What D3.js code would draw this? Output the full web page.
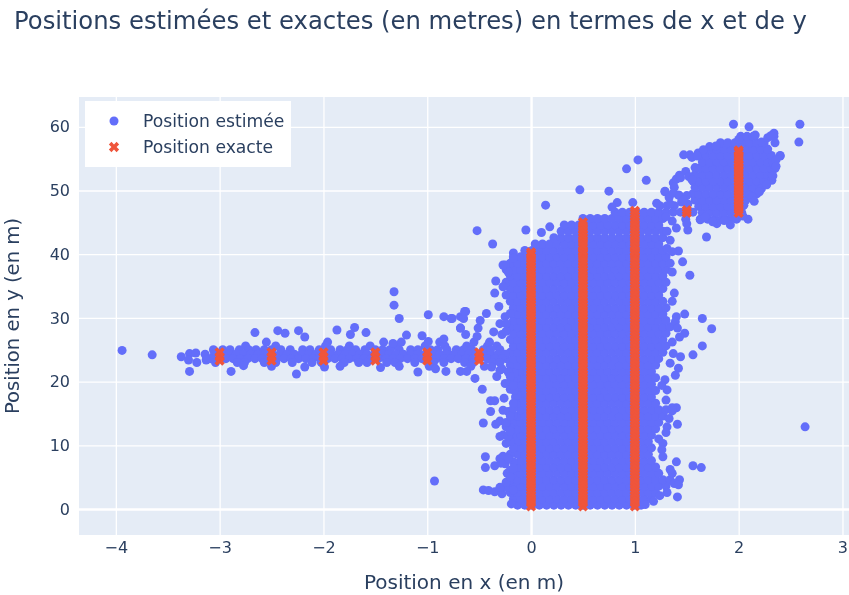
<!DOCTYPE html>
<html>
<head>
<meta charset="utf-8">
<script src="https://cdn.jsdelivr.net/npm/d3@7"></script>
<style>
  html, body { margin: 0; padding: 0; background: #fff; }
  text { font-family: "DejaVu Sans", sans-serif; fill: #2a3f5f; }
</style>
</head>
<body>
<div id="wrapper"></div>
<script>
// labels
const titleText = "Positions estimées et exactes (en metres) en termes de x et de y";
const xLabel = "Position en x (en m)";
const yLabel = "Position en y (en m)";
const seriesNames = ["Position estimée", "Position exacte"];
const xTicks = [-4, -3, -2, -1, 0, 1, 2, 3];
const yTicks = [0, 10, 20, 30, 40, 50, 60];

// estimated positions, read row by row: [y, x, x, x, ...]
const massRows = [
  [0.6,-0.13,-0.06,0.01,0.08,0.15,0.22,0.29,0.36,0.43,0.5,0.57,0.64,0.71,0.78,0.85,0.92,0.99,1.06],
  [1.6,-0.17,-0.1,-0.03,0.04,0.11,0.18,0.25,0.32,0.39,0.46,0.53,0.6,0.67,0.74,0.81,0.88,0.95,1.02,1.09,1.16],
  [2.6,-0.2,-0.13,-0.06,0.01,0.08,0.15,0.22,0.29,0.36,0.43,0.5,0.57,0.64,0.71,0.78,0.85,0.92,0.99,1.06,1.13,1.2],
  [3.6,-0.24,-0.17,-0.1,-0.03,0.04,0.11,0.18,0.25,0.32,0.39,0.46,0.53,0.6,0.67,0.74,0.81,0.88,0.95,1.02,1.09,1.16,1.23,1.3],
  [4.6,-0.2,-0.13,-0.06,0.01,0.08,0.15,0.22,0.29,0.36,0.43,0.5,0.57,0.64,0.71,0.78,0.85,0.92,0.99,1.06,1.13,1.2,1.27,1.34],
  [5.6,-0.17,-0.1,-0.03,0.04,0.11,0.18,0.25,0.32,0.39,0.46,0.53,0.6,0.67,0.74,0.81,0.88,0.95,1.02,1.09,1.16,1.23],
  [6.6,-0.13,-0.06,0.01,0.08,0.15,0.22,0.29,0.36,0.43,0.5,0.57,0.64,0.71,0.78,0.85,0.92,0.99,1.06,1.13,1.2],
  [7.6,-0.1,-0.03,0.04,0.11,0.18,0.25,0.32,0.39,0.46,0.53,0.6,0.67,0.74,0.81,0.88,0.95,1.02,1.09,1.16],
  [8.6,-0.13,-0.06,0.01,0.08,0.15,0.22,0.29,0.36,0.43,0.5,0.57,0.64,0.71,0.78,0.85,0.92,0.99,1.06,1.13],
  [9.6,-0.1,-0.03,0.04,0.11,0.18,0.25,0.32,0.39,0.46,0.53,0.6,0.67,0.74,0.81,0.88,0.95,1.02,1.09,1.16],
  [10.6,-0.13,-0.06,0.01,0.08,0.15,0.22,0.29,0.36,0.43,0.5,0.57,0.64,0.71,0.78,0.85,0.92,0.99,1.06,1.13],
  [11.6,-0.17,-0.1,-0.03,0.04,0.11,0.18,0.25,0.32,0.39,0.46,0.53,0.6,0.67,0.74,0.81,0.88,0.95,1.02,1.09,1.16],
  [12.6,-0.13,-0.06,0.01,0.08,0.15,0.22,0.29,0.36,0.43,0.5,0.57,0.64,0.71,0.78,0.85,0.92,0.99,1.06,1.13,1.2],
  [13.6,-0.17,-0.1,-0.03,0.04,0.11,0.18,0.25,0.32,0.39,0.46,0.53,0.6,0.67,0.74,0.81,0.88,0.95,1.02,1.09,1.16,1.23],
  [14.6,-0.13,-0.06,0.01,0.08,0.15,0.22,0.29,0.36,0.43,0.5,0.57,0.64,0.71,0.78,0.85,0.92,0.99,1.06,1.13,1.2,1.27],
  [15.6,-0.1,-0.03,0.04,0.11,0.18,0.25,0.32,0.39,0.46,0.53,0.6,0.67,0.74,0.81,0.88,0.95,1.02,1.09,1.16,1.23,1.3],
  [16.6,-0.13,-0.06,0.01,0.08,0.15,0.22,0.29,0.36,0.43,0.5,0.57,0.64,0.71,0.78,0.85,0.92,0.99,1.06,1.13,1.2],
  [17.6,-0.1,-0.03,0.04,0.11,0.18,0.25,0.32,0.39,0.46,0.53,0.6,0.67,0.74,0.81,0.88,0.95,1.02,1.09,1.16],
  [18.6,-0.13,-0.06,0.01,0.08,0.15,0.22,0.29,0.36,0.43,0.5,0.57,0.64,0.71,0.78,0.85,0.92,0.99,1.06,1.13,1.2],
  [19.6,-0.1,-0.03,0.04,0.11,0.18,0.25,0.32,0.39,0.46,0.53,0.6,0.67,0.74,0.81,0.88,0.95,1.02,1.09,1.16],
  [20.6,-0.13,-0.06,0.01,0.08,0.15,0.22,0.29,0.36,0.43,0.5,0.57,0.64,0.71,0.78,0.85,0.92,0.99,1.06,1.13,1.2],
  [21.6,-0.17,-0.1,-0.03,0.04,0.11,0.18,0.25,0.32,0.39,0.46,0.53,0.6,0.67,0.74,0.81,0.88,0.95,1.02,1.09,1.16],
  [22.6,-0.2,-0.13,-0.06,0.01,0.08,0.15,0.22,0.29,0.36,0.43,0.5,0.57,0.64,0.71,0.78,0.85,0.92,0.99,1.06,1.13,1.2],
  [23.6,-0.24,-0.17,-0.1,-0.03,0.04,0.11,0.18,0.25,0.32,0.39,0.46,0.53,0.6,0.67,0.74,0.81,0.88,0.95,1.02,1.09,1.16,1.23],
  [24.6,-0.2,-0.13,-0.06,0.01,0.08,0.15,0.22,0.29,0.36,0.43,0.5,0.57,0.64,0.71,0.78,0.85,0.92,0.99,1.06,1.13,1.2,1.27],
  [25.6,-0.17,-0.1,-0.03,0.04,0.11,0.18,0.25,0.32,0.39,0.46,0.53,0.6,0.67,0.74,0.81,0.88,0.95,1.02,1.09,1.16,1.23,1.3],
  [26.6,-0.2,-0.13,-0.06,0.01,0.08,0.15,0.22,0.29,0.36,0.43,0.5,0.57,0.64,0.71,0.78,0.85,0.92,0.99,1.06,1.13,1.2,1.27],
  [27.6,-0.17,-0.1,-0.03,0.04,0.11,0.18,0.25,0.32,0.39,0.46,0.53,0.6,0.67,0.74,0.81,0.88,0.95,1.02,1.09,1.16,1.23,1.3],
  [28.6,-0.2,-0.13,-0.06,0.01,0.08,0.15,0.22,0.29,0.36,0.43,0.5,0.57,0.64,0.71,0.78,0.85,0.92,0.99,1.06,1.13,1.2,1.27,1.34],
  [29.6,-0.17,-0.1,-0.03,0.04,0.11,0.18,0.25,0.32,0.39,0.46,0.53,0.6,0.67,0.74,0.81,0.88,0.95,1.02,1.09,1.16,1.23,1.3],
  [30.6,-0.13,-0.06,0.01,0.08,0.15,0.22,0.29,0.36,0.43,0.5,0.57,0.64,0.71,0.78,0.85,0.92,0.99,1.06,1.13,1.2,1.27],
  [31.6,-0.17,-0.1,-0.03,0.04,0.11,0.18,0.25,0.32,0.39,0.46,0.53,0.6,0.67,0.74,0.81,0.88,0.95,1.02,1.09,1.16,1.23,1.3],
  [32.6,-0.2,-0.13,-0.06,0.01,0.08,0.15,0.22,0.29,0.36,0.43,0.5,0.57,0.64,0.71,0.78,0.85,0.92,0.99,1.06,1.13,1.2,1.27],
  [33.6,-0.24,-0.17,-0.1,-0.03,0.04,0.11,0.18,0.25,0.32,0.39,0.46,0.53,0.6,0.67,0.74,0.81,0.88,0.95,1.02,1.09,1.16,1.23],
  [34.6,-0.2,-0.13,-0.06,0.01,0.08,0.15,0.22,0.29,0.36,0.43,0.5,0.57,0.64,0.71,0.78,0.85,0.92,0.99,1.06,1.13,1.2,1.27],
  [35.6,-0.24,-0.17,-0.1,-0.03,0.04,0.11,0.18,0.25,0.32,0.39,0.46,0.53,0.6,0.67,0.74,0.81,0.88,0.95,1.02,1.09,1.16,1.23,1.3],
  [36.6,-0.2,-0.13,-0.06,0.01,0.08,0.15,0.22,0.29,0.36,0.43,0.5,0.57,0.64,0.71,0.78,0.85,0.92,0.99,1.06,1.13,1.2,1.27],
  [37.6,-0.24,-0.17,-0.1,-0.03,0.04,0.11,0.18,0.25,0.32,0.39,0.46,0.53,0.6,0.67,0.74,0.81,0.88,0.95,1.02,1.09,1.16,1.23,1.3],
  [38.6,-0.2,-0.13,-0.06,0.01,0.08,0.15,0.22,0.29,0.36,0.43,0.5,0.57,0.64,0.71,0.78,0.85,0.92,0.99,1.06,1.13,1.2,1.27,1.34],
  [39.6,-0.17,-0.1,-0.03,0.04,0.11,0.18,0.25,0.32,0.39,0.46,0.53,0.6,0.67,0.74,0.81,0.88,0.95,1.02,1.09,1.16,1.23,1.3],
  [40.6,-0.06,0.01,0.08,0.15,0.22,0.29,0.36,0.43,0.5,0.57,0.64,0.71,0.78,0.85,0.92,0.99,1.06,1.13,1.2,1.27],
  [41.6,0.04,0.11,0.18,0.25,0.32,0.39,0.46,0.53,0.6,0.67,0.74,0.81,0.88,0.95,1.02,1.09,1.16,1.23],
  [42.6,0.22,0.29,0.36,0.43,0.5,0.57,0.64,0.71,0.78,0.85,0.92,0.99,1.06,1.13,1.2,1.27],
  [43.6,0.29,0.36,0.43,0.5,0.57,0.64,0.71,0.78,0.85,0.92,0.99,1.06,1.13,1.2,1.27],
  [44.6,0.32,0.39,0.46,0.53,0.6,0.67,0.74,0.81,0.88,0.95,1.02,1.09,1.16,1.23],
  [45.6,0.5,0.57,0.64,0.71,0.78,0.85,0.92,0.99,1.06,1.13,1.2,1.27],
  [46.6,0.81,0.88,0.95,1.02,1.09,1.16,1.23,1.3,1.37,1.44,1.56],
  [47.6,1.24,1.31,1.38]
];

// upper right cluster, same layout
const clusterRows = [
  [45.5,1.49,1.63,1.7,1.77,1.84,1.91,1.98],
  [46.5,1.65,1.72,1.79,1.86,1.93,2,2.03],
  [47.5,1.615,1.685,1.755,1.825,1.895,1.965,2.035],
  [48.5,1.58,1.65,1.72,1.79,1.86,1.93,2,2.07],
  [49.5,1.56,1.615,1.685,1.755,1.825,1.895,1.965,2.035,2.105,2.175],
  [50.5,1.58,1.65,1.72,1.79,1.86,1.93,2,2.07,2.14,2.21],
  [51.5,1.56,1.615,1.685,1.755,1.825,1.895,1.965,2.035,2.105,2.175,2.245],
  [52.5,1.58,1.65,1.72,1.79,1.86,1.93,2,2.07,2.14,2.21,2.28,2.32],
  [53.5,1.615,1.685,1.755,1.825,1.895,1.965,2.035,2.105,2.175,2.245,2.315,2.35],
  [54.5,1.65,1.72,1.79,1.86,1.93,2,2.07,2.14,2.21,2.28,2.33],
  [55.5,1.64,1.685,1.755,1.825,1.895,1.965,2.035,2.105,2.175,2.245,2.315,2.4],
  [56.5,1.72,1.79,1.86,1.93,2,2.07,2.14,2.21,2.28],
  [57.5,1.825,1.895,1.965,2.035,2.105,2.175,2.245,2.35],
  [58.5,2.02,2.08,2.14,2.34]
];

// horizontal band around y = 24
const bandRows = [
  [26.2,-1.96,-1.42,-0.88,-0.55,-0.4],
  [25.6,-2.75,-2.46,-1.98,-1.75,-1.55,-1.3,-1.02,-0.83,-0.62,-0.42,-0.33],
  [25.0,-3.06,-2.97,-2.9,-2.81,-2.72,-2.65,-2.57,-2.5,-2.41,-2.32,-2.2,-2.13,-2.04,-1.93,-1.84,-1.77,-1.69,-1.6,-1.5,-1.43,-1.36,-1.27,-1.16,-1.09,-0.97,-0.9,-0.81,-0.72,-0.65,-0.57,-0.46,-0.39,-0.3],
  [24.3,-3.14,-3.05,-2.98,-2.91,-2.84,-2.77,-2.7,-2.63,-2.56,-2.49,-2.42,-2.35,-2.28,-2.21,-2.14,-2.07,-2,-1.93,-1.86,-1.79,-1.72,-1.65,-1.58,-1.51,-1.44,-1.37,-1.3,-1.23,-1.16,-1.09,-1.02,-0.95,-0.88,-0.81,-0.74,-0.67,-0.6,-0.53,-0.46,-0.39,-0.32,-0.25],
  [23.6,-3.09,-3.01,-2.94,-2.87,-2.8,-2.73,-2.66,-2.59,-2.52,-2.45,-2.38,-2.31,-2.24,-2.17,-2.1,-2.03,-1.96,-1.89,-1.82,-1.75,-1.68,-1.61,-1.54,-1.47,-1.4,-1.33,-1.26,-1.19,-1.12,-1.05,-0.98,-0.91,-0.84,-0.77,-0.7,-0.63,-0.56,-0.49,-0.42,-0.35,-0.28],
  [23.0,-3.04,-2.83,-2.76,-2.57,-2.46,-2.3,-2.11,-2.02,-1.8,-1.66,-1.58,-1.39,-1.31,-1.12,-0.94,-0.84,-0.64,-0.56,-0.37,-0.3],
  [22.4,-2.5,-1.84,-1.27,-0.98,-0.58,-0.45]
];

// stray points: [x, y]
const strayPoints = [
  [-3.94,24.9],[-3.65,24.2],[-3.37,23.9],[-3.29,24.4],[-3.23,24.5],[-3.3,23.4],[-3.22,23],[-3.29,21.6],[-3.13,23.4],
  [-2.66,27.7],[-2.44,28],[-2.37,27.6],[-2.24,28],[-2.18,27],[-2.55,26.2],[-2.26,21.2],[-2.18,22.3],[-2.89,21.6],
  [-1.87,28.1],[-1.7,28.5],[-1.74,27.4],[-1.59,27.7],[-1.32,34.1],[-1.32,32],[-1.27,29.9],[-0.99,30.5],[-0.84,30.2],
  [-0.76,29.9],[-0.68,30.2],[-0.63,31],[-0.65,29.9],[-0.52,43.7],[-1.45,22.2],[-1.09,21.5],[-1.2,27.3],[-1.05,27.2],
  [-0.84,26.7],[-0.68,28.4],[-0.54,20.5],[-0.82,21.6],[-0.92,22],[-0.68,21.6],[-0.62,21.6],[-1.33,26],[-1.25,26.2],
  [-1.99,22.3],[-2.77,22.5],[-0.99,26.3],[-0.93,4.4],[2.64,12.9],
  [-0.37,41.6],[-0.05,43.8],[0.1,43.4],[0.18,44.3],[0.14,47.7],[0.47,50.1],[0.75,49.9],[0.92,53.4],[1.03,54.8],[1.11,51.6],
  [0.83,48.1],[0.78,47.4],[0.98,48.1],[1.21,48],[1.29,49.8],[1.34,47.9],[1.42,40.5],[1.46,38.8],[1.36,37.2],[1.53,36.7],
  [1.65,29.9],[1.74,28.3],[1.48,30.6],[1.4,30.2],[1.48,27.6],[1.43,27],[1.65,25.6],[1.56,24.2],[1.44,23.9],[1.42,22.1],
  [1.39,21],[1.31,18.7],[1.4,15.9],[1.36,15.9],[1.41,13.3],[1.31,12.9],[1.27,10.3],[1.26,9.3],[1.4,7.4],[1.56,6.8],
  [1.64,6.5],[1.36,5.6],[1.43,4.6],[1.41,1.9],[1.31,2.6],
  [-0.47,18.8],[-0.39,17],[-0.35,17],[-0.26,17.4],[-0.39,15.3],[-0.46,13.5],[-0.34,13.3],[-0.3,13.8],[-0.3,11.4],
  [-0.44,8.2],[-0.44,6.5],[-0.35,6.8],[-0.3,7.9],[-0.46,3],[-0.41,2.9],[-0.35,2.7],[-0.28,2.4],[-0.19,0.8],
  [-0.25,19.7],[-0.2,18.8],[-0.33,20.8],[-0.3,21.8],[-0.38,22.3],
  [-0.64,31],[-0.77,29.9],[-0.43,30.7],[-0.49,29.6],[-0.51,28.4],[-0.68,28.4],[-0.63,27.4],[-0.52,27.1],[-0.36,27.8],
  [-0.3,29.1],[-0.35,33.9],[-0.34,35.8],[-0.25,38.3],[-0.31,31.8],[-0.17,40.2],
  [1.95,60.4],[2.1,60],[2.59,60.4],[2.58,57.6],[2.34,59],[1.47,55.6],[1.53,55.6],[1.61,55.9],[1.58,53.6],[1.43,52.4],
  [1.49,53],[1.37,51.2],[1.29,49.9],[1.33,48.9],[1.42,49.3],[1.45,48.2],[1.51,47.9],
  [1.79,44.8],[1.92,44.6],[2.09,45.5],[1.69,42.7],[1.51,43.8],[1.4,44.1],[1.5,44.8],[1.63,45.4],[1.36,45.2],[1.3,45.9],
  [2.35,53.5],[2.32,51.6],[2.22,50.3],[2.13,49],[2.05,47.7],[2.4,55.4]
];

// points along the rough edges of the big mass and of the cluster
const edgePoints = [
  [-0.24,3.4],[-0.17,3],[-0.3,3.4],[-0.24,4.2],[-0.23,5.6],[-0.2,6.1],[-0.25,7.1],[-0.17,7.4],
  [-0.24,10.3],[-0.27,11.6],[-0.2,12.7],[-0.24,12.9],[-0.27,15.5],[-0.22,15.3],[-0.17,14.7],[-0.15,17.6],
  [-0.17,20.2],[-0.2,20],[-0.16,21.3],[-0.28,22],[-0.22,21.5],
  [-0.2,5],[-0.17,6.4],[-0.2,8.6],[-0.17,9.6],[-0.2,10.6],[-0.22,11.4],[-0.2,12.2],[-0.24,13.6],[-0.2,14.6],
  [-0.17,15.8],[-0.17,16.6],[-0.13,17.9],[-0.16,18.6],[-0.17,19.4],[-0.2,20.8],[-0.27,8.3],[-0.22,7.9],[-0.29,7.2],
  [-0.27,34.9],[-0.22,37.2],[-0.27,38.3],[-0.17,39.4],[-0.25,30.2],[-0.2,30.7],[-0.28,27.4],[-0.24,27.9],[-0.24,29.1],
  [1.31,40.9],[1.34,42.2],[1.31,43.6],[1.36,40.4],[1.38,33.9],[1.36,32.6],[1.39,29.4],[1.41,28.4],[1.36,26.2],[1.37,24.4],
  [1.34,22.9],[1.29,20.3],[1.26,19.4],[1.3,17.1],[1.36,15.4],[1.33,14.2],[1.3,12],[1.23,11],[1.27,8.2],[1.34,6.2],
  [1.38,4],[1.42,3.8],[1.24,2.1],[1.18,1.2],[1.1,0.7],
  [1.72,56.9],[1.66,56.4],[1.78,57],[2,58],[2.16,58.7],[2.22,57.6],[2.28,58.3],[2.31,58.6],[1.55,55.2],[1.6,55.4],
  [2.36,54.8],[2.36,53.8],[2.33,52.3],[2.27,50.9],[2.2,49.8],[2.15,48.3],[1.68,45.8],[1.75,45.1],[1.86,45.3],[1.97,45.7],
  [2.04,46],[1.4,51.8],[1.44,52],[1.52,52.2],[1.55,51.7],[1.38,50.5],[1.37,49.6],[1.43,49.2],[1.5,49.2],[1.47,48.5]
];

// exact positions, one list of y per x
const exactY0 = [0.4,1,1.5,2,2.5,3,3.5,4,4.5,5,5.5,6,6.5,7,7.5,8,8.5,9,9.5,10,10.5,11,11.5,12,12.5,13,13.5,14,14.5,15,15.5,16,16.5,17,17.5,18,18.5,19,19.5,20,20.5,21,21.5,22,22.5,23,23.5,24,24.5,25,25.5,26,26.5,27,27.5,28,28.5,29,29.5,30,30.5,31,31.5,32,32.5,33,33.5,34,34.5,35,35.5,36,36.5,37,37.5,38,38.5,39,39.5,40,40.3];
const exactY05 = exactY0.concat([40.5,41,41.5,42,42.5,43,43.5,44,44.5,45]);
const exactY1 = exactY05.concat([45.5,46,46.4,46.8]);
const exactY2 = [46.5,47,47.5,48,48.5,49,49.5,50,50.5,51,51.5,52,52.5,53,53.5,54,54.5,55,55.5,56,56.3];
const exactBand = [23.3,23.9,24.6];
const exactLines = [
  [-3, exactBand], [-2.5, exactBand], [-2, exactBand], [-1.5, exactBand], [-1, exactBand], [-0.5, exactBand],
  [0, exactY0], [0.5, exactY05], [1, exactY1], [1.5, [46.5,46.9]], [2, exactY2]
];

async function drawChart() {
  const estimated = [];
  [massRows, clusterRows, bandRows].forEach((rows) =>
    rows.forEach(([y, ...xs]) => xs.forEach((x) => estimated.push([x, y])))
  );
  strayPoints.concat(edgePoints).forEach((p) => estimated.push(p));

  const exact = [];
  exactLines.forEach(([x, ys]) => ys.forEach((y) => exact.push([x, y])));

  const dimensions = {
    width: 849,
    height: 595,
    margin: { top: 97, right: 0, bottom: 60, left: 79 },
  };
  dimensions.boundedWidth =
    dimensions.width - dimensions.margin.left - dimensions.margin.right;
  dimensions.boundedHeight =
    dimensions.height - dimensions.margin.top - dimensions.margin.bottom;

  const wrapper = d3
    .select("#wrapper")
    .append("svg")
    .attr("width", dimensions.width)
    .attr("height", dimensions.height)
    .style("display", "block")
    .style("filter", "blur(0.4px)");

  const bounds = wrapper
    .append("g")
    .attr("transform", `translate(${dimensions.margin.left}, ${dimensions.margin.top})`);

  const xScale = d3.scaleLinear().domain([-4.355, 3.063]).range([0, dimensions.boundedWidth]);
  const yScale = d3.scaleLinear().domain([-4.08, 64.68]).range([dimensions.boundedHeight, 0]);

  bounds
    .append("rect")
    .attr("width", dimensions.boundedWidth)
    .attr("height", dimensions.boundedHeight)
    .attr("fill", "#E5ECF6");

  // axes, the ticks double as the white grid
  const xAxis = bounds
    .append("g")
    .attr("transform", `translate(0, ${dimensions.boundedHeight})`)
    .call(d3.axisBottom(xScale).tickValues(xTicks).tickSize(-dimensions.boundedHeight).tickPadding(7));
  const yAxis = bounds
    .append("g")
    .call(d3.axisLeft(yScale).tickValues(yTicks).tickSize(-dimensions.boundedWidth).tickPadding(9));

  [xAxis, yAxis].forEach((axis) => {
    axis.select(".domain").remove();
    axis.selectAll("line").attr("stroke", "#fff").attr("stroke-width", 1.3);
    axis.selectAll("text").style("font-size", "16px").style("font-family", '"DejaVu Sans"');
  });
  xAxis.selectAll("line").filter((d) => d === 0).attr("stroke-width", 2.4);
  yAxis.selectAll("line").filter((d) => d === 0).attr("stroke-width", 2.4);

  // data
  bounds
    .append("g")
    .selectAll("circle")
    .data(estimated)
    .join("circle")
    .attr("cx", (d) => xScale(d[0]))
    .attr("cy", (d) => yScale(d[1]))
    .attr("r", 4.5)
    .attr("fill", "#636EFA");

  const xMarker = d3.symbol(d3.symbolCross, 66);
  bounds
    .append("g")
    .selectAll("path")
    .data(exact)
    .join("path")
    .attr("d", xMarker)
    .attr("transform", (d) => `translate(${xScale(d[0])}, ${yScale(d[1])}) rotate(45)`)
    .attr("fill", "#EF553B");

  // legend
  const legend = wrapper.append("g").attr("transform", "translate(85, 101)");
  legend.append("rect").attr("width", 206).attr("height", 66).attr("fill", "#fff");
  legend.append("circle").attr("cx", 29).attr("cy", 20).attr("r", 4.5).attr("fill", "#636EFA");
  legend
    .append("path")
    .attr("d", xMarker)
    .attr("transform", "translate(29, 46) rotate(45)")
    .attr("fill", "#EF553B");
  legend
    .selectAll("text")
    .data(seriesNames)
    .join("text")
    .attr("x", 58)
    .attr("y", (d, i) => 26 + i * 26)
    .style("font-size", "17.2px")
    .text((d) => d);

  // titles
  wrapper
    .append("text")
    .attr("x", 14)
    .attr("y", 29)
    .style("font-size", "24.3px")
    .text(titleText);
  wrapper
    .append("text")
    .attr("x", 464)
    .attr("y", 589)
    .style("text-anchor", "middle")
    .style("font-size", "20px")
    .text(xLabel);
  wrapper
    .append("text")
    .attr("transform", "translate(19, 316) rotate(-90)")
    .style("text-anchor", "middle")
    .style("font-size", "19.6px")
    .text(yLabel);
}

drawChart();
</script>
</body>
</html>
